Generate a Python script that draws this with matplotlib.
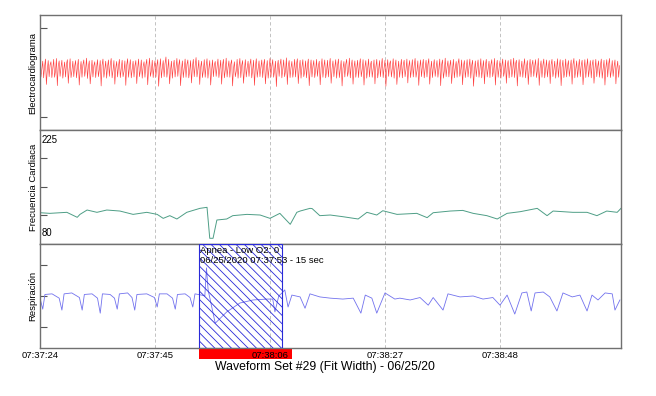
import numpy as np
import matplotlib
matplotlib.use('Agg')
import matplotlib.pyplot as plt
import matplotlib.transforms as mtransforms
from matplotlib.patches import Rectangle

plt.rcParams['font.family'] = ['Liberation Sans', 'DejaVu Sans']
plt.rcParams['hatch.linewidth'] = 0.6

# time axis: seconds after 07:37:24
tick_secs = [0, 21, 42, 63, 84]
tick_labels = ['07:37:24', '07:37:45', '07:38:06', '07:38:27', '07:38:48']
x_end = 106.1

# ECG: upper, lower and settling level of each beat (0.5 s apart)
ecg_step = 0.5
ecg_hi = [.42, .38, .45, .40, .36, .44, .47, .39, .41, .35, .43, .46, .38, .40, .44, .37, .42, .48, .39, .41,
          .36, .43, .40, .45, .38, .42, .47, .40, .37, .44, .41, .39, .46, .43, .38, .40, .45, .42, .36, .44,
          .48, .41, .39, .43, .46, .40, .52, .44, .38, .41, .47, .43, .39, .45, .42, .40, .44, .50, .41, .38,
          .43, .46, .40, .42, .37, .45, .41, .44, .48, .39, .42, .36, .44, .47, .40, .43, .38, .45, .41, .46,
          .39, .42, .44, .40, .47, .43, .38, .41, .45, .42, .49, .40, .37, .44, .46, .41, .43, .39, .45, .42,
          .40, .44, .38, .46, .42, .41, .47, .39, .43, .45, .40, .37, .44, .48, .42, .39, .41, .46, .43, .40,
          .45, .38, .42, .44, .40, .47, .41, .43, .39, .46, .42, .38, .44, .41, .45, .40, .43, .47, .39, .42,
          .44, .41, .46, .38, .43, .40, .45, .42, .48, .39, .41, .44, .37, .46, .42, .40, .43, .45, .41, .39,
          .42, .46, .40, .44, .38, .43, .47, .41, .39, .45, .42, .40, .44, .48, .41, .43, .38, .46, .40, .44,
          .41, .43, .47, .39, .45, .42, .40, .44, .38, .46, .43, .41, .45, .40, .42, .47, .39, .44, .41, .43,
          .46, .40, .42, .44, .39, .45, .41, .43, .47, .40, .42, .38]
ecg_lo = [-.15, -.18, -.40, -.14, -.17, -.16, -.44, -.13, -.19, -.15, -.36, -.17, -.14, -.18, -.42, -.16, -.13, -.20, -.38, -.15,
          -.17, -.14, -.45, -.16, -.19, -.13, -.18, -.39, -.15, -.17, -.14, -.43, -.16, -.18, -.15, -.37, -.14, -.19, -.16, -.41,
          -.13, -.17, -.15, -.46, -.18, -.14, -.16, -.38, -.19, -.15, -.13, -.44, -.17, -.16, -.18, -.35, -.14, -.15, -.40, -.17,
          -.16, -.19, -.42, -.14, -.13, -.17, -.39, -.18, -.15, -.16, -.45, -.14, -.19, -.17, -.36, -.15, -.13, -.18, -.43, -.16,
          -.14, -.17, -.38, -.19, -.15, -.16, -.47, -.13, -.18, -.14, -.40, -.17, -.16, -.15, -.37, -.19, -.14, -.18, -.44, -.15,
          -.17, -.13, -.41, -.16, -.18, -.15, -.36, -.14, -.19, -.17, -.45, -.15, -.13, -.18, -.39, -.16, -.17, -.14, -.42, -.19,
          -.15, -.16, -.38, -.18, -.14, -.17, -.46, -.13, -.15, -.19, -.40, -.16, -.18, -.14, -.35, -.17, -.15, -.16, -.43, -.14,
          -.18, -.15, -.39, -.17, -.13, -.16, -.44, -.19, -.14, -.15, -.37, -.18, -.16, -.13, -.41, -.17, -.15, -.19, -.46, -.14,
          -.16, -.18, -.38, -.15, -.17, -.14, -.42, -.16, -.19, -.13, -.36, -.18, -.15, -.17, -.45, -.14, -.16, -.18, -.40, -.15,
          -.13, -.17, -.43, -.16, -.18, -.15, -.37, -.14, -.19, -.16, -.44, -.17, -.15, -.13, -.39, -.18, -.16, -.14, -.41, -.17,
          -.15, -.18, -.36, -.14, -.16, -.19, -.42, -.15, -.17, -.13, -.38, -.16]
ecg_mid = [.12, .20, .08, .25, .15, .05, .22, .18, .10, .28, .14, .06, .21, .17, .09, .26, .13, .19, .04, .23,
           .16, .09, .24, .11, .19, .27, .07, .15, .21, .12, .03, .25, .18, .10, .22, .14, .08, .20, .26, .13,
           .05, .18, .23, .10, .15, .29, .12, .07, .20, .16, .24, .09, .13, .27, .06, .19, .22, .11, .17, .08,
           .21, .14, .06, .25, .18, .11, .23, .08, .16, .28, .13, .04, .20, .24, .10, .15, .26, .09, .19, .12,
           .17, .24, .10, .13, .21, .07, .19, .26, .12, .05, .22, .16, .09, .27, .14, .18, .03, .23, .11, .20,
           .08, .22, .15, .19, .04, .26, .12, .17, .23, .10, .14, .28, .06, .21, .16, .11, .25, .09, .18, .13,
           .24, .11, .18, .07, .22, .15, .09, .27, .13, .20, .05, .17, .25, .10, .19, .12, .23, .06, .16, .21,
           .14, .27, .09, .20, .16, .12, .25, .05, .18, .22, .11, .15, .29, .08, .21, .13, .17, .24, .07, .19,
           .10, .16, .23, .12, .26, .08, .19, .14, .21, .06, .24, .17, .11, .28, .15, .09, .22, .18, .13, .25,
           .20, .07, .15, .24, .11, .18, .26, .09, .14, .22, .17, .04, .21, .13, .27, .10, .16, .23, .08, .19,
           .13, .25, .09, .18, .22, .11, .16, .27, .07, .20, .14, .23]

# heart rate (bpm)
hr_t = [0.0, 1.8, 4.9, 6.8, 7.3, 8.6, 10.4, 12.2, 14.6, 17.0, 19.5, 21.4, 22.5, 23.7, 25.0, 26.8, 29.2, 30.5,
        31.0, 31.6, 32.3, 34.1, 35.2, 37.8, 40.2, 42.0, 43.8, 45.7, 46.9, 47.5, 49.3, 49.7, 51.1, 53.0, 55.3,
        58.1, 59.7, 61.5, 62.6, 65.2, 68.8, 70.7, 71.8, 74.9, 77.2, 79.1, 81.6, 83.5, 85.3, 87.7, 90.8, 92.6,
        93.7, 97.3, 99.9, 101.7, 103.5, 105.4, 106.1]
hr_v = [111.6, 110.6, 112.2, 104.4, 109.0, 115.8, 112.2, 115.8, 114.2, 109.0, 112.2, 109.0, 102.8, 107.0,
        101.8, 112.2, 118.4, 120.0, 71.7, 71.7, 100.2, 101.8, 107.0, 109.0, 108.0, 102.8, 110.6, 93.5, 112.2,
        114.2, 118.4, 118.0, 107.0, 108.0, 105.4, 101.8, 112.2, 108.0, 114.7, 109.0, 110.6, 103.9, 111.6,
        114.2, 115.2, 110.6, 107.0, 101.8, 110.6, 113.2, 118.4, 107.0, 114.2, 112.2, 112.2, 107.0, 114.2,
        112.2, 118.4]
hr_top, hr_bottom = 225, 80

# respiration
resp_t = [0.0, 0.5, 0.9, 2.2, 3.5, 4.0, 4.4, 5.8, 7.2, 7.7,
          8.1, 9.5, 10.5, 11.0, 11.4, 12.8, 13.6, 14.1, 14.5, 16.0,
          16.8, 17.3, 17.7, 19.5, 20.9, 21.4, 21.8, 23.2, 24.2, 24.7,
          25.1, 26.5, 27.4, 27.9, 28.3, 29.5, 30.1, 30.4, 30.7, 32.0,
          34.1, 36.5, 38.9, 41.5, 42.5, 42.9, 43.6, 44.2, 44.7, 45.3,
          46.0, 47.5, 48.4, 49.3, 51.1, 53.0, 55.3, 57.2, 58.6, 59.4,
          60.6, 61.5, 63.0, 64.8, 65.7, 67.6, 69.4, 70.9, 71.8, 73.6,
          74.5, 76.7, 79.1, 80.9, 82.7, 84.0, 85.3, 86.7, 88.0, 88.9,
          89.7, 90.4, 91.9, 93.1, 94.4, 95.5, 97.2, 98.6, 99.9, 100.8,
          101.9, 103.2, 104.5, 105.0, 105.9]
resp_v = [-0.07, -0.43, 0.05, 0.07, -0.07, -0.46, 0.07, 0.10, -0.05, -0.46,
          0.05, 0.07, -0.07, -0.56, 0.07, 0.05, -0.07, -0.43, 0.07, 0.10,
          -0.05, -0.46, 0.05, 0.07, -0.05, -0.36, 0.07, 0.07, -0.07, -0.43,
          0.05, 0.07, -0.05, -0.36, 0.07, 0.03, 0.00, 0.92, 0.20, -0.89,
          -0.52, -0.23, -0.13, -0.10, -0.10, -0.52, 0.00, 0.10, 0.20, -0.36,
          0.03, -0.03, -0.40, 0.07, -0.03, -0.07, -0.10, -0.07, -0.56, 0.03,
          -0.07, -0.56, 0.10, -0.10, -0.07, -0.13, -0.05, -0.30, -0.05, -0.46,
          0.07, -0.03, 0.00, -0.10, -0.05, -0.30, 0.03, -0.59, 0.10, 0.13,
          -0.49, 0.10, 0.13, -0.03, -0.49, 0.10, -0.03, 0.03, -0.49, 0.03,
          -0.13, 0.10, 0.07, -0.46, -0.13]

# apnea event
apnea_start = 29.0
apnea_len = 15.2
bar_end = 46.0
apnea_text = 'Apnea - Low O2: 0\n06/25/2020 07:37:53 - 15 sec'
title = 'Waveform Set #29 (Fit Width) - 06/25/20'

W_PX, H_PX = 656, 396
fig = plt.figure(figsize=(W_PX / 100, H_PX / 100), dpi=100)
left, width = 40 / W_PX, 581 / W_PX
ax_ecg = fig.add_axes([left, 1 - 130 / H_PX, width, 115 / H_PX])
ax_hr = fig.add_axes([left, 1 - 244 / H_PX, width, 114 / H_PX])
ax_resp = fig.add_axes([left, 1 - 348 / H_PX, width, 104 / H_PX])

# ecg: hi, lo, mid per beat, one third of a step apart
n = len(ecg_hi)
beat_t = np.arange(n) * ecg_step
ecg_t = np.column_stack([beat_t, beat_t + ecg_step / 3, beat_t + 2 * ecg_step / 3]).ravel()
ecg_v = np.column_stack([ecg_hi, ecg_lo, ecg_mid]).ravel()
ax_ecg.plot(ecg_t, ecg_v, color='#ff2a2a', lw=0.45, alpha=0.9)
ax_ecg.set_ylim(-1.92, 1.92)
ax_ecg.set_yticks([-1.5, 1.5])

ax_hr.plot(hr_t, hr_v, color='#4e9e86', lw=0.7)
ax_hr.set_ylim(62.8, 240.6)
ax_hr.set_yticks([108, 152, 197])
ax_hr.text(0.3, hr_top, str(hr_top), fontsize=6.9, va='center', ha='left')
ax_hr.text(0.3, hr_bottom, str(hr_bottom), fontsize=6.9, va='center', ha='left')

ax_resp.plot(resp_t, resp_v, color='#7272ee', lw=0.6)
ax_resp.set_ylim(-1.7, 1.7)
ax_resp.set_yticks([-1, 0, 1])

for ax, lab in [(ax_ecg, 'Electrocardiograma'), (ax_hr, 'Frecuencia Cardiaca'), (ax_resp, 'Respiración')]:
    ax.set_xlim(0, x_end)
    ax.set_xticks(tick_secs)
    ax.set_yticklabels([])
    ax.tick_params(axis='y', direction='in', length=5, color='#555555', width=0.8)
    ax.tick_params(axis='x', length=0, labelsize=6.8, pad=2)
    ax.grid(axis='x', color='#b8b8b8', lw=0.6, linestyle=(0, (4, 3)))
    for s in ax.spines.values():
        s.set_color('#707070')
        s.set_linewidth(1.0)
    ax.set_ylabel(lab, fontsize=6.8)
    ax.yaxis.set_label_coords(-0.004, 0.5)
    if ax is not ax_resp:
        ax.set_xticklabels([])

ax_resp.set_xticklabels(tick_labels)

trans = mtransforms.blended_transform_factory(ax_resp.transData, ax_resp.transAxes)
ax_resp.add_patch(Rectangle((apnea_start, -11 / 104), bar_end - apnea_start, 11 / 104,
                            transform=trans, facecolor='#ff0000', edgecolor='none',
                            clip_on=False, zorder=1))
ax_resp.add_patch(Rectangle((apnea_start, 0), apnea_len, 1, transform=trans,
                            facecolor='none', edgecolor='#2a2ad8', hatch=chr(92) * 4,
                            lw=0.8, zorder=3))
ax_resp.text(apnea_start + 0.2, 0.985, apnea_text, transform=trans, va='top', ha='left',
             fontsize=6.8, zorder=4)

fig.text(325 / W_PX, 1 - 367 / H_PX, title, ha='center', va='center', fontsize=8.8)

fig.savefig('out.png', dpi=100)
